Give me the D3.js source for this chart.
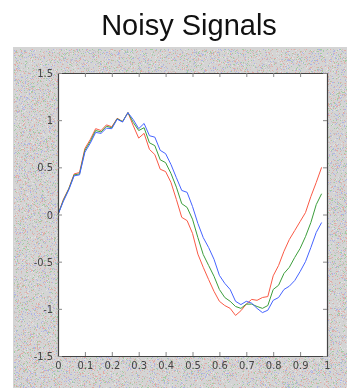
<!DOCTYPE html>
<html>
<head>
<meta charset="utf-8">
<script src="https://cdn.jsdelivr.net/npm/d3@7/dist/d3.min.js"></script>
<style>
  html, body { margin: 0; padding: 0; background: #ffffff; }
  #wrap { position: relative; width: 347px; height: 388px; overflow: hidden; }
  #wrap canvas, #wrap svg { position: absolute; left: 0; top: 0; }
</style>
</head>
<body>
<div id="wrap">
  <canvas id="bg" width="347" height="388"></canvas>
  <svg id="chart" width="347" height="388"></svg>
</div>
<script>
// Sample times shared by all three signals
const timeValues = [
  0.00, 0.02, 0.04, 0.06, 0.08, 0.10, 0.12, 0.14, 0.16, 0.18,
  0.20, 0.22, 0.24, 0.26, 0.28, 0.30, 0.32, 0.34, 0.36, 0.38,
  0.40, 0.42, 0.44, 0.46, 0.48, 0.50, 0.52, 0.54, 0.56, 0.58,
  0.60, 0.62, 0.64, 0.66, 0.68, 0.70, 0.72, 0.74, 0.76, 0.78,
  0.80, 0.82, 0.84, 0.86, 0.88, 0.90, 0.92, 0.94, 0.96, 0.98
];

const redSignal = [
  0.00, 0.16, 0.275, 0.43, 0.445, 0.70, 0.795, 0.91, 0.89, 0.95,
  0.93, 1.02, 0.985, 1.08, 0.94, 0.81, 0.86, 0.69, 0.635, 0.48,
  0.455, 0.34, 0.16, -0.03, -0.065, -0.20, -0.42, -0.56, -0.69, -0.815,
  -0.92, -0.965, -0.995, -1.07, -1.02, -0.95, -0.90, -0.91, -0.88, -0.87,
  -0.65, -0.54, -0.39, -0.265, -0.17, -0.075, 0.02, 0.19, 0.34, 0.50
];

const greenSignal = [
  0.00, 0.15, 0.27, 0.42, 0.43, 0.68, 0.775, 0.89, 0.875, 0.935,
  0.92, 1.015, 0.985, 1.08, 0.975, 0.89, 0.92, 0.76, 0.73, 0.58,
  0.55, 0.435, 0.29, 0.115, 0.075, -0.05, -0.245, -0.425, -0.54, -0.655,
  -0.795, -0.88, -0.92, -0.975, -0.995, -0.95, -0.95, -0.975, -0.995, -0.965,
  -0.795, -0.75, -0.625, -0.56, -0.455, -0.36, -0.235, -0.085, 0.105, 0.22
];

const blueSignal = [
  0.00, 0.14, 0.26, 0.41, 0.42, 0.66, 0.755, 0.87, 0.86, 0.915,
  0.91, 1.01, 0.98, 1.08, 1.005, 0.91, 0.965, 0.835, 0.82, 0.68,
  0.645, 0.53, 0.39, 0.255, 0.235, 0.085, -0.095, -0.245, -0.35, -0.475,
  -0.645, -0.73, -0.795, -0.92, -0.955, -0.92, -0.94, -0.995, -1.04, -1.015,
  -0.91, -0.88, -0.795, -0.76, -0.70, -0.605, -0.50, -0.35, -0.19, -0.085
];

const xTickValues = [0, 0.1, 0.2, 0.3, 0.4, 0.5, 0.6, 0.7, 0.8, 0.9, 1];
const xTickLabels = ["0", "0.1", "0.2", "0.3", "0.4", "0.5", "0.6", "0.7", "0.8", "0.9", "1"];
const yTickValues = [-1.5, -1, -0.5, 0, 0.5, 1, 1.5];
const yTickLabels = ["-1.5", "-1", "-0.5", "0", "0.5", "1", "1.5"];

const titleText = "Noisy Signals";
const seriesList = [
  { name: "red", values: redSignal, color: "#fa5a46" },
  { name: "green", values: greenSignal, color: "#3c9e3c" },
  { name: "blue", values: blueSignal, color: "#4664ff" }
];

// ---- stippled figure panel (canvas) ----
const panel = { x: 13, y: 47, w: 334, h: 341 };
const box = { left: 58, right: 327, top: 73, bottom: 356 };

(function drawPanel() {
  const ctx = document.getElementById("bg").getContext("2d");
  ctx.fillStyle = "#ffffff";
  ctx.fillRect(0, 0, 347, 388);
  ctx.fillStyle = "#d4d4d4";
  ctx.fillRect(panel.x, panel.y, panel.w, panel.h);
  // deterministic hash for the dither texture
  function hash(i, j) {
    let h = (i * 374761393 + j * 668265263) | 0;
    h = (h ^ (h >>> 13)) * 1274126177 | 0;
    h = h ^ (h >>> 16);
    return (h >>> 0) / 4294967296;
  }
  const dots = ["#e2aaa4", "#a2cca2", "#aeb2e6", "#c2c2c2", "#e2e2e2", "#dcc0bc"];
  for (let yy = panel.y + 2; yy < panel.y + panel.h; yy++) {
    for (let xx = panel.x + 1; xx < panel.x + panel.w; xx++) {
      const r = hash(xx, yy);
      if (r < 0.3) {
        ctx.fillStyle = dots[Math.floor(r / 0.3 * dots.length)];
        ctx.fillRect(xx, yy, 1, 1);
      }
    }
  }
})();

// ---- chart ----
const svg = d3.select("#chart");

svg.append("text")
  .attr("x", 189)
  .attr("y", 35)
  .attr("text-anchor", "middle")
  .attr("font-family", "'Liberation Sans', Arial, sans-serif")
  .attr("font-size", 29)
  .attr("fill", "#111")
  .text(titleText);

const x = d3.scaleLinear().domain([0, 1]).range([box.left, box.right]);
const y = d3.scaleLinear().domain([-1.5, 1.5]).range([box.bottom, box.top]);

svg.append("rect")
  .attr("x", box.left).attr("y", box.top)
  .attr("width", box.right - box.left).attr("height", box.bottom - box.top)
  .attr("fill", "#ffffff");

const line = d3.line()
  .x((d, i) => x(timeValues[i]))
  .y(d => y(d));

const lines = svg.append("g");
seriesList.forEach(s => {
  lines.append("path")
    .datum(s.values)
    .attr("fill", "none")
    .attr("stroke", s.color)
    .attr("stroke-width", 1)
    .attr("stroke-linejoin", "round")
    .attr("d", line);
});

const labelFont = "'Liberation Sans Narrow', 'DejaVu Sans Condensed', Arial, sans-serif";

function styleAxis(g, showText) {
  g.select(".domain").attr("stroke", "#444").attr("stroke-width", 1.2);
  g.selectAll(".tick line").attr("stroke", "#888");
  g.selectAll(".tick text")
    .attr("fill", "#444")
    .attr("font-family", labelFont)
    .attr("font-size", 11)
    .style("display", showText ? null : "none");
}

svg.append("g")
  .attr("transform", `translate(0,${box.bottom})`)
  .call(d3.axisBottom(x).tickValues(xTickValues)
    .tickFormat((d, i) => xTickLabels[i])
    .tickSizeInner(-4).tickSizeOuter(0).tickPadding(5))
  .call(g => styleAxis(g, true));

svg.append("g")
  .attr("transform", `translate(0,${box.top})`)
  .call(d3.axisTop(x).tickValues(xTickValues)
    .tickFormat(() => "")
    .tickSizeInner(-4).tickSizeOuter(0))
  .call(g => styleAxis(g, false));

svg.append("g")
  .attr("transform", `translate(${box.left},0)`)
  .call(d3.axisLeft(y).tickValues(yTickValues)
    .tickFormat((d, i) => yTickLabels[i])
    .tickSizeInner(-4).tickSizeOuter(0).tickPadding(5))
  .call(g => styleAxis(g, true));

svg.append("g")
  .attr("transform", `translate(${box.right},0)`)
  .call(d3.axisRight(y).tickValues(yTickValues)
    .tickFormat(() => "")
    .tickSizeInner(-4).tickSizeOuter(0))
  .call(g => styleAxis(g, false));
</script>
</body>
</html>
